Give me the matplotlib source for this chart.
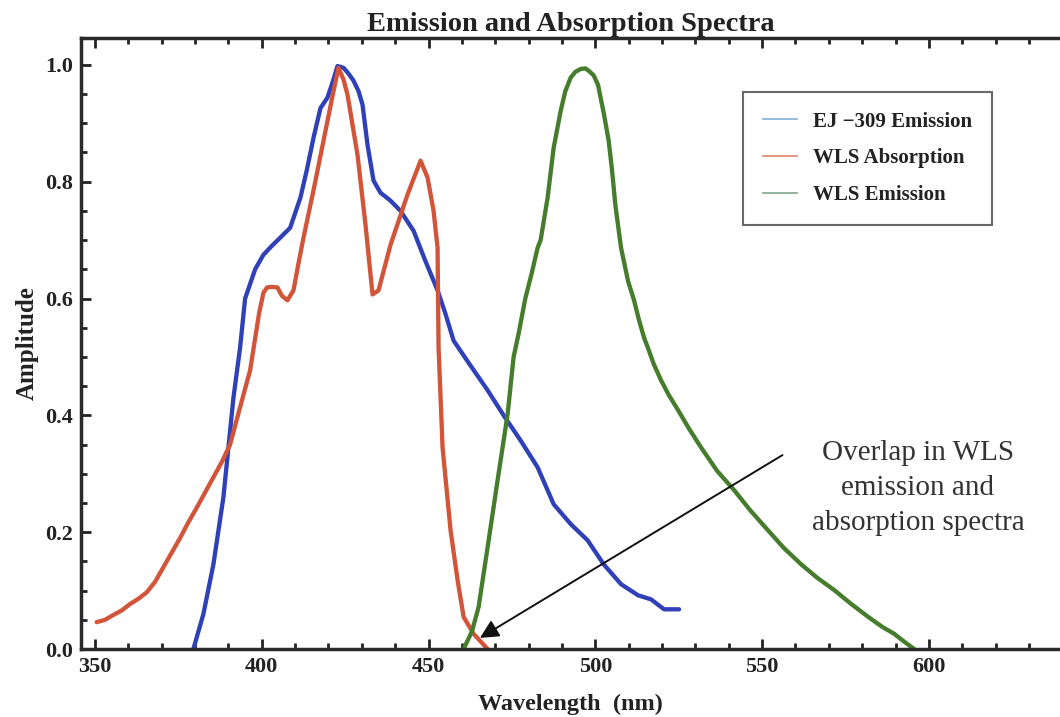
import matplotlib
matplotlib.use("Agg")
import matplotlib.pyplot as plt
from matplotlib.lines import Line2D
from matplotlib.ticker import MultipleLocator

# EJ-309 emission
ej_x = [379.5, 382.5, 385.5, 388.5, 390.0, 391.5, 393.5, 395.0, 398.0, 400.5,
        403.0, 405.5, 408.5, 411.6, 413.5, 415.5, 417.6, 419.7, 421.5, 422.7,
        424.5, 426.0, 427.5, 429.0, 430.2, 431.7, 433.5, 435.6, 438.5, 441.6,
        445.5, 449.0, 452.7, 455.0, 457.5, 462.0, 467.7, 472.5, 477.6, 482.7,
        487.5, 492.6, 497.7, 502.5, 507.7, 512.8, 516.7, 520.6, 525.1]
ej_y = [0.0, 0.06, 0.145, 0.26, 0.345, 0.43, 0.516, 0.6, 0.65, 0.675,
        0.69, 0.704, 0.721, 0.773, 0.82, 0.875, 0.926, 0.944, 0.975, 0.998,
        0.995, 0.985, 0.973, 0.955, 0.932, 0.863, 0.802, 0.781, 0.768, 0.75,
        0.716, 0.665, 0.614, 0.575, 0.528, 0.49, 0.443, 0.40, 0.357, 0.311,
        0.248, 0.214, 0.186, 0.145, 0.111, 0.092, 0.085, 0.068, 0.068]

# WLS absorption
abs_x = [350.5, 353.0, 355.4, 358.0, 360.5, 363.0, 365.5, 368.0, 370.5, 373.0,
         375.5, 378.0, 380.6, 383.0, 385.5, 388.0, 390.5, 393.5, 396.5, 399.2,
         400.5, 401.6, 403.0, 404.7, 406.0, 407.7, 409.5, 411.0, 412.5, 415.5,
         419.7, 421.5, 423.0, 424.5, 425.7, 428.7, 431.1, 433.2, 435.0, 438.6,
         443.7, 447.6, 449.7, 451.5, 452.7, 453.0, 454.2, 456.6, 458.7, 460.5,
         463.5, 467.7]
abs_y = [0.046, 0.050, 0.058, 0.066, 0.077, 0.086, 0.097, 0.115, 0.14, 0.165,
         0.19, 0.217, 0.243, 0.268, 0.294, 0.32, 0.35, 0.414, 0.477, 0.575,
         0.61, 0.619, 0.62, 0.619, 0.605, 0.597, 0.614, 0.66, 0.704, 0.785,
         0.904, 0.955, 0.995, 0.975, 0.949, 0.846, 0.726, 0.607, 0.614, 0.692,
         0.778, 0.836, 0.807, 0.75, 0.687, 0.516, 0.345, 0.203, 0.118, 0.055,
         0.026, 0.0]

# WLS emission
wls_x = [460.5, 463.0, 465.0, 467.7, 470.7, 473.7, 475.5, 477.0, 479.0, 481.0,
         482.7, 483.6, 485.7, 487.5, 489.6, 491.0, 492.6, 494.0, 495.6, 497.0,
         498.0, 499.5, 500.8, 502.6, 504.0, 505.0, 506.0, 507.7, 509.8, 511.6,
         513.0, 514.6, 515.8, 517.5, 519.7, 522.0, 524.8, 528.0, 531.7, 536.5,
         541.6, 546.5, 551.8, 556.5, 561.7, 566.5, 571.6, 576.5, 581.8, 586.0,
         589.6, 592.5, 595.6]
wls_y = [0.0, 0.03, 0.072, 0.174, 0.289, 0.402, 0.50, 0.54, 0.60, 0.645,
         0.687, 0.70, 0.773, 0.858, 0.921, 0.955, 0.978, 0.988, 0.993, 0.994,
         0.99, 0.982, 0.966, 0.915, 0.87, 0.82, 0.76, 0.687, 0.63, 0.597,
         0.565, 0.533, 0.515, 0.488, 0.46, 0.435, 0.409, 0.378, 0.345, 0.305,
         0.272, 0.237, 0.203, 0.173, 0.145, 0.122, 0.101, 0.078, 0.055, 0.038,
         0.026, 0.013, 0.0]

legend_labels = ["EJ \u2212309 Emission", "WLS Absorption", "WLS Emission"]
note_text = "Overlap in WLS\nemission and\nabsorption spectra"

plt.rcParams["font.family"] = ["Liberation Serif", "DejaVu Serif"]

fig = plt.figure(figsize=(10.6, 7.17), dpi=100)
ax = fig.add_axes([0.0764, 0.0948, 0.9236, 0.8522])

kw = dict(lw=3.1, solid_joinstyle="round", solid_capstyle="round")
ax.plot(ej_x, ej_y, color="#3040b8", **kw)
ax.plot(abs_x, abs_y, color="#d2553a", **kw)
ax.plot(wls_x, wls_y, color="#467d2d", **kw)

ax.set_xlim(345.8, 639.3)
ax.set_ylim(0.0, 1.046)

ax.xaxis.set_major_locator(MultipleLocator(50))
ax.xaxis.set_minor_locator(MultipleLocator(10))
ax.yaxis.set_major_locator(MultipleLocator(0.2))
ax.yaxis.set_minor_locator(MultipleLocator(0.05))
ax.yaxis.set_major_formatter(plt.FuncFormatter(lambda v, p: f"{v:.1f}"))

ax.tick_params(which="both", direction="in", top=True, right=False,
               color="#222222", width=2)
ax.tick_params(which="major", length=7, labelsize=16, pad=6)
ax.tick_params(which="minor", length=4)
for lab in ax.get_xticklabels() + ax.get_yticklabels():
    lab.set_fontweight("bold")
    lab.set_color("#222222")

for side in ["left", "bottom", "top"]:
    ax.spines[side].set_linewidth(2.5)
    ax.spines[side].set_color("#2a2a2a")
ax.spines["right"].set_visible(False)

ax.set_title("Emission and Absorption Spectra", fontsize=20.5, fontweight="bold",
             color="#222222", pad=5)
ax.set_xlabel("Wavelength  (nm)", fontsize=17.5, fontweight="bold", color="#222222",
              labelpad=12)
ax.set_ylabel("Amplitude", fontsize=18, fontweight="bold", color="#222222",
              labelpad=4)

handles = [Line2D([], [], color="#7fb0d8", lw=1.2),
           Line2D([], [], color="#dd8466", lw=1.2),
           Line2D([], [], color="#7fa48a", lw=1.2)]
leg = ax.legend(handles, legend_labels, loc="upper left",
                bbox_to_anchor=(0.676, 0.912), borderaxespad=0,
                prop={"family": "Liberation Serif", "weight": "bold", "size": 15},
                frameon=True, fancybox=False, handlelength=1.65,
                labelspacing=0.8, borderpad=0.95, handletextpad=0.75)
leg.get_frame().set_edgecolor("#444444")
leg.get_frame().set_linewidth(1.5)
for t in leg.get_texts():
    t.set_color("#222222")

ax.annotate("", xy=(465.4, 0.019), xytext=(556.1, 0.332),
            arrowprops=dict(arrowstyle="-|>", color="#111111", lw=1.4,
                            mutation_scale=28, shrinkA=0, shrinkB=0))
ax.text(596.7, 0.276, note_text, ha="center", va="center", fontsize=21,
        color="#333333", linespacing=1.45)

fig.savefig("out.png", dpi=100)
